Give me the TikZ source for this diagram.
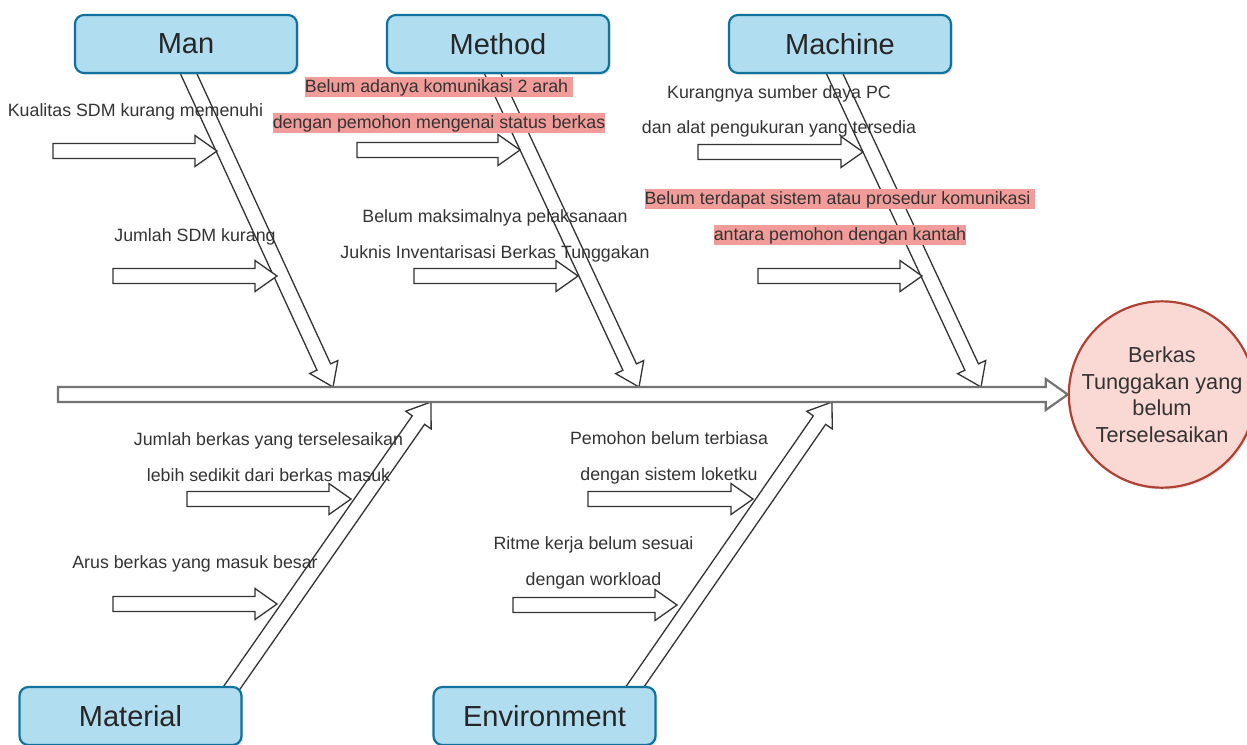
\documentclass[tikz,border=0pt]{standalone}
\usepackage{fontspec}
\setmainfont{Liberation Sans}
\usetikzlibrary{positioning,calc,shadows,backgrounds}
\definecolor{boxfill}{HTML}{B1DDF0}
\definecolor{boxline}{HTML}{10739E}
\definecolor{efffill}{HTML}{FAD9D5}
\definecolor{effline}{HTML}{AE4132}
\definecolor{hlpink}{HTML}{F19C99}
\definecolor{txtgray}{HTML}{333333}
\tikzset{
    % Category Node
    node_cat/.style = {draw=boxline, fill=boxfill, line width=2.2pt, rounded corners=9pt, minimum width=222pt, minimum height=58pt, font=\fontsize{29}{34}\selectfont, text=black!85, drop shadow={shadow xshift=2pt, shadow yshift=-2pt, opacity=0.2}},
    % Effect Node
    node_eff/.style = {circle, draw=effline, fill=efffill, line width=2.2pt, minimum size=177pt, inner sep=0pt, align=center, font=\fontsize{21.7}{26.5}\selectfont, text=txtgray, drop shadow={shadow xshift=2pt, shadow yshift=-2pt, opacity=0.2}},
    % Cause Label (anchored on its last baseline)
    node_cause/.style = {align=center, inner sep=0pt, anchor=base, text=txtgray, font=\fontsize{17.8}{35.5}\selectfont},
    fat_arrow/.style = {draw=black!80, line width=1.3pt, fill=white, line join=miter},
    spine_arrow/.style = {fat_arrow, draw=black!55, line width=2.2pt}
}
\newcommand{\pinkline}[1]{{\setlength{\fboxsep}{0pt}\colorbox{hlpink}{\rule[-4.5pt]{0pt}{20pt}#1}}}
% hollow arrow from #2 to #3
\newcommand{\fatarrow}[3][]{%
    \path (#2) coordinate (fa-s) (#3) coordinate (fa-e);
    \path ($(fa-e)!22pt!(fa-s)$) coordinate (fa-b);
    \draw[fat_arrow,#1] ($(fa-s)!7.5pt!90:(fa-e)$) -- ($(fa-b)!7.5pt!90:(fa-e)$) -- ($(fa-b)!15.5pt!90:(fa-e)$) -- (fa-e)
        -- ($(fa-b)!15.5pt!-90:(fa-e)$) -- ($(fa-b)!7.5pt!-90:(fa-e)$) -- ($(fa-s)!7.5pt!-90:(fa-e)$) -- cycle;
}

\begin{document}
\begin{tikzpicture}[x=1pt, y=-1pt]
    \useasboundingbox (0,0) rectangle (1247,744);

    % categories and effect
    \node[node_cat] (man) at (186,44) {Man};
    \node[node_cat] (method) at (498,44) {Method};
    \node[node_cat] (machine) at (840,44) {Machine};
    \node[node_cat] (material) at (130.5,716) {Material};
    \node[node_cat] (environment) at (544.5,716) {Environment};
    \node[node_eff] (effect) at (1162,394.5) {Berkas\\Tunggakan yang\\belum\\Terselesaikan};

    \coordinate (tail) at (58,394.5);
    \coordinate (t_man) at (333,387);
    \coordinate (t_method) at (639,387);
    \coordinate (t_machine) at (981,387);
    \coordinate (t_material) at (431,402);
    \coordinate (t_env) at (832,402);

    \begin{scope}[on background layer]
        % bones
        \fatarrow{$(man.south)+(1,-4)$}{t_man}
        \fatarrow{$(method.south)+(-7,-4)$}{t_method}
        \fatarrow{$(machine.south)+(-7,-4)$}{t_machine}
        \fatarrow{$(material.north east)+(-13,5)$}{t_material}
        \fatarrow{$(environment.north east)+(-24.5,5)$}{t_env}
        \fatarrow[spine_arrow]{tail}{effect.west}
        % causes
        \fatarrow{53,151}{217,151}
        \fatarrow{113,276}{277,276}
        \fatarrow{357,150}{520,150}
        \fatarrow{414,276}{578,276}
        \fatarrow{698,152}{863,152}
        \fatarrow{758,276}{922,276}
        \fatarrow{187,499}{351,499}
        \fatarrow{113,604}{277,604}
        \fatarrow{588,499}{753,499}
        \fatarrow{513,605}{677,605}
    \end{scope}

    \node[node_cause] (man1) at (135.5,116) {Kualitas SDM kurang memenuhi};
    \node[node_cause] (man2) at (195,241) {Jumlah SDM kurang};
    \node[node_cause] (met1) at (439,128) {\pinkline{Belum adanya komunikasi 2 arah\ }\\\pinkline{dengan pemohon mengenai status berkas}};
    \node[node_cause] (met2) at (495,258) {Belum maksimalnya pelaksanaan\\Juknis Inventarisasi Berkas Tunggakan};
    \node[node_cause] (mac1) at (779,133.5) {Kurangnya sumber daya PC\\dan alat pengukuran yang tersedia};
    \node[node_cause] (mac2) at (840,240) {\pinkline{Belum terdapat sistem atau prosedur komunikasi\ }\\\pinkline{antara pemohon dengan kantah}};
    \node[node_cause] (mat1) at (268.5,481) {Jumlah berkas yang terselesaikan\\lebih sedikit dari berkas masuk};
    \node[node_cause] (mat2) at (195,568) {Arus berkas yang masuk besar};
    \node[node_cause] (env1) at (669,480) {Pemohon belum terbiasa\\dengan sistem loketku};
    \node[node_cause] (env2) at (593.5,585) {Ritme kerja belum sesuai\\dengan workload};
\end{tikzpicture}
\end{document}
